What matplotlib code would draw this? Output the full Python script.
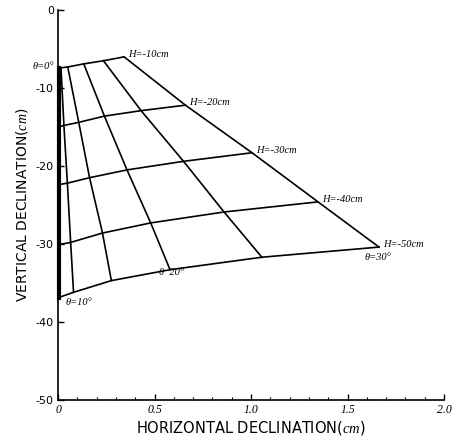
import matplotlib
matplotlib.use("Agg")
import matplotlib.pyplot as plt

# grid of declination values, rows = H, columns = theta
theta = [0, 10, 15, 20, 25, 30]
H = [-10, -20, -30, -40, -50]

x_grid = [
    [0.0, 0.015, 0.05, 0.133, 0.235, 0.342],
    [0.0, 0.030, 0.107, 0.240, 0.430, 0.660],
    [0.0, 0.048, 0.163, 0.357, 0.650, 1.005],
    [0.0, 0.065, 0.230, 0.480, 0.860, 1.347],
    [0.0, 0.080, 0.276, 0.580, 1.056, 1.663],
]
y_grid = [
    [-7.4, -7.4, -7.3, -6.9, -6.5, -6.0],
    [-15.0, -14.8, -14.4, -13.6, -12.9, -12.2],
    [-22.4, -22.2, -21.5, -20.5, -19.4, -18.3],
    [-30.1, -29.8, -28.6, -27.3, -25.9, -24.6],
    [-36.9, -36.2, -34.7, -33.3, -31.7, -30.4],
]

xticks = [0, 0.5, 1.0, 1.5, 2.0]
xtick_labels = ["0", "0.5", "1.0", "1.5", "2.0"]
yticks = [0, -10, -20, -30, -40, -50]
ytick_labels = ["0", "-10", "-20", "-30", "-40", "-50"]

plt.rcParams['mathtext.fontset'] = 'custom'
plt.rcParams['mathtext.it'] = 'Liberation Serif:italic'

fig = plt.figure(figsize=(4.54, 4.38), dpi=100)
ax = fig.add_axes([0.128, 0.087, 0.850, 0.890])

# constant H lines
for i in range(len(H)):
    ax.plot(x_grid[i], y_grid[i], color='black', lw=1.2)

# constant theta lines
for j in range(len(theta)):
    xs = [row[j] for row in x_grid]
    ys = [row[j] for row in y_grid]
    if theta[j] == 0:
        ax.plot([x + 0.006 for x in xs], ys, color='black', lw=3.0, clip_on=False)
    else:
        ax.plot(xs, ys, color='black', lw=1.2)

lab = dict(fontsize=7.5, family='Liberation Serif', style='italic', va='center')
for i in range(len(H)):
    ax.text(x_grid[i][-1] + 0.02, y_grid[i][-1] + 0.3, "H=-%dcm" % abs(H[i]), ha='left', **lab)

ax.text(-0.02, y_grid[0][0] + 0.2, "θ=0°", ha='right', **lab)
ax.text(x_grid[4][1] - 0.04, y_grid[4][1] - 1.3, "θ=10°", ha='left', **lab)
ax.text(x_grid[4][3] - 0.055, y_grid[4][3] - 0.3, "θ  20°", ha='left', **lab)
ax.text(x_grid[4][5] - 0.075, y_grid[4][5] - 1.3, "θ=30°", ha='left', **lab)

ax.set_xlim(0, 2.0)
ax.set_ylim(-50, 0)
ax.set_xticks(xticks)
ax.set_xticklabels(xtick_labels, family='Liberation Serif', style='italic', fontsize=8.5)
ax.set_xticks([k / 10 for k in range(21)], minor=True)
ax.set_yticks(yticks)
ax.set_yticklabels(ytick_labels, fontsize=8)
ax.tick_params(direction='in', length=4, width=1.0, pad=3)
ax.tick_params(which='minor', direction='in', length=2.5, width=0.8)

for s in ['top', 'right']:
    ax.spines[s].set_visible(False)
for s in ['left', 'bottom']:
    ax.spines[s].set_linewidth(1.2)

ax.set_xlabel("HORIZONTAL DECLINATION($\\it{cm}$)", fontsize=10.5, labelpad=2)
ax.set_ylabel("VERTICAL DECLINATION($\\it{cm}$)", fontsize=10, labelpad=4)

plt.savefig("out.png", dpi=100)
